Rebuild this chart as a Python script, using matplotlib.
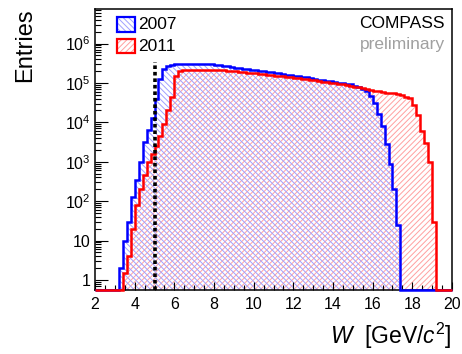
import numpy as np
import matplotlib
matplotlib.use("Agg")
import matplotlib.pyplot as plt
import matplotlib.ticker as ticker
from matplotlib.patches import Rectangle

plt.rcParams['font.family'] = ['Liberation Sans', 'DejaVu Sans']
plt.rcParams['mathtext.fontset'] = 'custom'
plt.rcParams['mathtext.rm'] = 'Liberation Sans'
plt.rcParams['mathtext.it'] = 'Liberation Sans:italic'
plt.rcParams['hatch.linewidth'] = 0.7

# histogram binning: 0.2 GeV bins from 2 to 20
w_edges = np.round(np.arange(2.0, 20.001, 0.2), 2)

# 2007 entries per bin
entries_2007 = [
    0, 0, 0, 0, 0, 0, 2, 10, 30, 130,
    350, 1000, 3200, 6300, 12600, 40000, 126000, 230000, 263000, 282000,
    295000, 300000, 300000, 300000, 300000, 300000, 300000, 300000, 300000, 295000,
    288000, 282000, 269000, 263000, 257000, 245000, 240000, 229000, 224000, 219000,
    214000, 204000, 200000, 191000, 186000, 178000, 174000, 166000, 162000, 155000,
    151000, 148000, 141000, 138000, 132000, 126000, 120000, 117000, 112000, 110000,
    107000, 102000, 100000, 95500, 91200, 85100, 77600, 70800, 61700, 46800,
    30200, 15800, 7900, 2800, 900, 200, 25, 0, 0, 0,
    0, 0, 0, 0, 0, 0, 0, 0, 0, 0,
]

# 2011 entries per bin
entries_2011 = [
    0, 0, 0, 0, 0, 0, 0, 1.5, 4, 20,
    80, 200, 450, 1000, 1600, 2500, 4500, 9000, 20000, 45000,
    150000, 205000, 214000, 214000, 214000, 214000, 214000, 214000, 214000, 214000,
    212000, 210000, 207000, 204000, 200000, 195000, 190000, 186000, 182000, 178000,
    174000, 170000, 166000, 162000, 158000, 154000, 150000, 146000, 142000, 138000,
    134000, 131000, 128000, 124000, 120000, 116000, 112000, 108000, 105000, 102000,
    99000, 96000, 92000, 89000, 85000, 81000, 77000, 73000, 69000, 66000,
    63000, 61000, 59000, 57000, 56000, 54000, 51000, 48000, 45000, 41000,
    27000, 15000, 6000, 3000, 1000, 30, 0, 0, 0, 0,
]

w_cut = 5.0
cut_top = 3.4e5

x_ticks = [2, 4, 6, 8, 10, 12, 14, 16, 18, 20]
y_ticks = [1, 10, 1e2, 1e3, 1e4, 1e5, 1e6]
y_tick_labels = ['1', '10', '$10^2$', '$10^3$', '$10^4$', '$10^5$', '$10^6$']

y_min = 10 ** -0.256
y_max = 10 ** 6.876


def main():
    fig = plt.figure(figsize=(4.62, 3.54), dpi=100)
    ax = fig.add_axes([95 / 462, 1 - 290 / 354, 357 / 462, 281 / 354])
    ax.set_yscale('log')
    ax.set_xlim(2, 20)
    ax.set_ylim(y_min, y_max)

    v07 = np.maximum(np.array(entries_2007, dtype=float), y_min)
    v11 = np.maximum(np.array(entries_2011, dtype=float), y_min)

    # hatched fills
    ax.stairs(v11, w_edges, baseline=y_min, fill=True, facecolor='none',
              edgecolor='#ffa0a0', hatch='//////', linewidth=0, zorder=1)
    ax.stairs(v07, w_edges, baseline=y_min, fill=True, facecolor='none',
              edgecolor='#a0a0ff', hatch='\\\\\\\\\\\\', linewidth=0, zorder=1)

    # outlines
    ax.stairs(v07, w_edges, baseline=y_min, color='#0000ff', linewidth=1.8,
              zorder=3, clip_on=False)
    ax.stairs(v11, w_edges, baseline=y_min, color='#ff0000', linewidth=1.8,
              zorder=3, clip_on=False)

    # cut line
    ax.plot([w_cut, w_cut], [y_min, cut_top], color='black', linewidth=2.6,
            linestyle=(0, (1, 0.8)), zorder=4)

    # ticks
    ax.xaxis.set_major_locator(ticker.FixedLocator(x_ticks))
    ax.xaxis.set_minor_locator(ticker.MultipleLocator(0.5))
    ax.set_yticks(y_ticks)
    ax.set_yticklabels(y_tick_labels)
    ax.yaxis.set_minor_locator(ticker.LogLocator(base=10, subs=np.arange(2, 10), numticks=20))
    ax.yaxis.set_minor_formatter(ticker.NullFormatter())
    ax.tick_params(which='both', direction='in', top=False, right=False, width=0.8)
    ax.tick_params(axis='x', which='major', length=6, pad=5, labelsize=11.5)
    ax.tick_params(axis='x', which='minor', length=3.5)
    ax.tick_params(axis='y', which='major', length=9, pad=3, labelsize=11.5)
    ax.tick_params(axis='y', which='minor', length=4.5)
    for s in ax.spines.values():
        s.set_linewidth(1.1)

    # legend drawn by hand
    boxes = [(0.9715, 0.918, '#a0a0ff', '\\\\\\\\\\\\', '#0000ff', '2007'),
             (0.893, 0.843, '#ffa0a0', '//////', '#ff0000', '2011')]
    for top, bot, hcol, hatch, col, label in boxes:
        ax.add_patch(Rectangle((0.062, bot), 0.05, top - bot, transform=ax.transAxes,
                               facecolor='white', edgecolor=hcol, hatch=hatch,
                               linewidth=0, zorder=5))
        ax.add_patch(Rectangle((0.062, bot), 0.05, top - bot, transform=ax.transAxes,
                               facecolor='none', edgecolor=col, linewidth=1.6, zorder=6))
        ax.text(0.121, (top + bot) / 2, label, transform=ax.transAxes,
                ha='left', va='center', fontsize=12.5, zorder=6)

    ax.text(0.98, 0.95, 'COMPASS', transform=ax.transAxes, ha='right',
            va='center', fontsize=12.5)
    ax.text(0.98, 0.872, 'preliminary', transform=ax.transAxes, ha='right',
            va='center', fontsize=12.5, color='#a0a0a0')

    # axis labels
    ax.text(1.0, -0.165, '$W$  [GeV/$c^2$]', transform=ax.transAxes,
            ha='right', va='center', fontsize=16.5)
    fig.text(25 / 462, 1 - 8 / 354, 'Entries', rotation=90, ha='center',
             va='top', fontsize=17)

    fig.savefig('out.png', dpi=100)


if __name__ == "__main__":
    main()
